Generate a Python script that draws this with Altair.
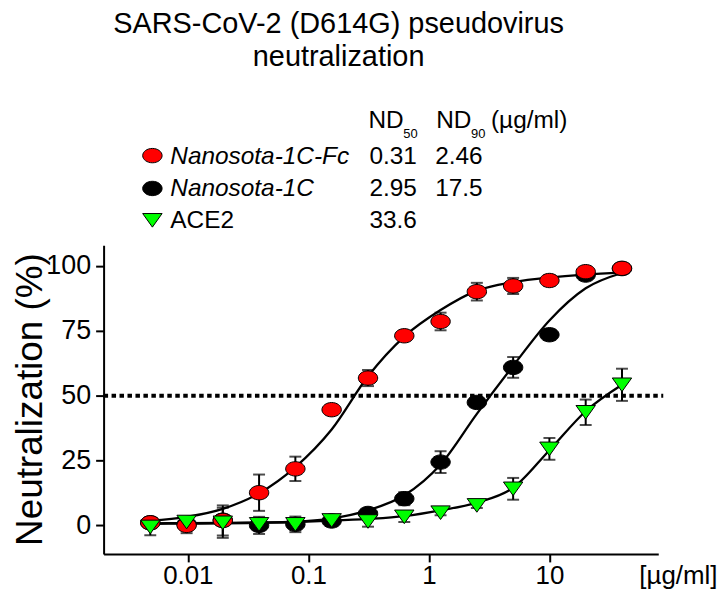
import altair as alt
import pandas as pd

# ---------------- data ----------------
doses = [0.00488, 0.00977, 0.0195, 0.039, 0.078, 0.156, 0.3125, 0.625, 1.25, 2.5, 5, 10, 20, 40]
series_names = ["Nanosota-1C-Fc", "Nanosota-1C", "ACE2"]
series_colors = ["#ff0000", "#000000", "#00ff00"]

fc_mean = [1.0, 0.0, 1.9, 12.6, 21.8, 44.6, 56.8, 73.1, 78.6, 90.1, 92.3, 94.4, 97.8, 99.1]
fc_err = [1.0, 3.0, 5.8, 7.0, 4.7, 1.0, 3.1, 1.0, 3.4, 3.4, 3.1, 2.0, 1.0, 1.0]
nb_mean = [1.0, 0.5, 2.0, 0.0, 0.4, 1.7, 4.6, 10.3, 24.4, 47.4, 60.9, 73.5, 96.5, 99.0]
nb_err = [1.0, 1.0, 1.0, 3.3, 3.0, 1.5, 1.5, 2.5, 4.2, 1.5, 4.0, 2.0, 1.5, 1.0]
ace2_mean = [-0.6, 1.3, 1.0, 0.4, 0.4, 1.9, 1.5, 3.3, 4.9, 7.7, 14.1, 29.5, 43.6, 54.2]
ace2_err = [3.2, 1.0, 5.8, 2.0, 2.0, 2.0, 2.0, 2.0, 1.0, 1.0, 4.2, 4.2, 4.9, 6.2]

# fitted curves at each dose
fc_fit = [1.8, 3.3, 6.4, 12.4, 22.5, 37.0, 57.5, 72.8, 83.0, 90.5, 93.8, 95.6, 96.7, 97.4]
nb_fit = [0.8, 0.9, 1.0, 1.1, 1.4, 2.7, 5.8, 11.6, 23.5, 43.0, 61.5, 79.0, 91.4, 97.3]
ace2_fit = [0.6, 0.7, 0.8, 1.0, 1.3, 1.8, 2.5, 3.6, 5.8, 8.8, 14.5, 29.0, 44.0, 54.2]

nd50_labels = ["0.31", "2.95", "33.6"]
nd90_labels = ["2.46", "17.5", ""]
ref_line = [50]
x_ticks = [0.01, 0.1, 1, 10]
y_ticks = [0, 25, 50, 75, 100]

title_lines = ["SARS-CoV-2 (D614G) pseudovirus", "neutralization"]
y_title = "Neutralization (%)"
x_unit = "[µg/ml]"

# ---------------- tables ----------------
means = {"Nanosota-1C-Fc": fc_mean, "Nanosota-1C": nb_mean, "ACE2": ace2_mean}
errs = {"Nanosota-1C-Fc": fc_err, "Nanosota-1C": nb_err, "ACE2": ace2_err}
fits = {"Nanosota-1C-Fc": fc_fit, "Nanosota-1C": nb_fit, "ACE2": ace2_fit}
draw_order = ["Nanosota-1C", "Nanosota-1C-Fc", "ACE2"]

rows = []
for k, s in enumerate(draw_order):
    for d, m, e in zip(doses, means[s], errs[s]):
        rows.append({"dose": d, "value": m, "lo": m - e, "hi": m + e, "series": s, "ord": k})
pts = pd.DataFrame(rows)

frows = []
for s in series_names:
    for d, f in zip(doses, fits[s]):
        frows.append({"dose": d, "fit": f, "series": s})
fit_df = pd.DataFrame(frows)

FONT = "Liberation Sans"
ELLIPSE = "M-1,0 A1,0.74 0 1,1 1,0 A1,0.74 0 1,1 -1,0 Z"
TRIANGLE = "M-1,-0.7 L1,-0.7 L0,0.7 Z"
shape_range = [ELLIPSE, ELLIPSE, TRIANGLE]

xscale = alt.Scale(type="log", domain=[0.002, 80], nice=False)
yscale = alt.Scale(domain=[-11, 108], nice=False, zero=False)

x_enc = alt.X("dose:Q", scale=xscale,
              axis=alt.Axis(values=x_ticks, format="~g", title=None, labelPadding=22,
                            labelBaseline="alphabetic", labelFontSize=26))
y_enc = alt.Y("value:Q", scale=yscale,
              axis=alt.Axis(values=y_ticks, title=None, labelPadding=5, labelFontSize=27))

# reference 50% line
ref = alt.Chart(pd.DataFrame({"v": ref_line})).mark_rule(
    color="black", strokeWidth=4, strokeDash=[4.5, 3.5]
).encode(y=alt.Y("v:Q", scale=yscale), x=alt.value(0), x2=alt.value(562))

curves = alt.Chart(fit_df).mark_line(color="black", strokeWidth=2.3, interpolate="monotone").encode(
    x=alt.X("dose:Q", scale=xscale),
    y=alt.Y("fit:Q", scale=yscale),
    detail="series:N",
)

base = alt.Chart(pts)
bars = base.mark_rule(color="black", strokeWidth=2).encode(
    x=alt.X("dose:Q", scale=xscale), y=alt.Y("lo:Q", scale=yscale), y2="hi:Q"
)
cap_lo = base.mark_tick(color="black", orient="horizontal", size=12, thickness=2).encode(
    x=alt.X("dose:Q", scale=xscale), y=alt.Y("lo:Q", scale=yscale)
)
cap_hi = base.mark_tick(color="black", orient="horizontal", size=12, thickness=2).encode(
    x=alt.X("dose:Q", scale=xscale), y=alt.Y("hi:Q", scale=yscale)
)
points = base.mark_point(filled=True, size=380, stroke="black", strokeWidth=1, opacity=1).encode(
    x=x_enc,
    y=y_enc,
    fill=alt.Fill("series:N", scale=alt.Scale(domain=series_names, range=series_colors), legend=None),
    shape=alt.Shape("series:N", scale=alt.Scale(domain=series_names, range=shape_range), legend=None),
    order="ord:Q",
)

one = pd.DataFrame({"a": [0]})


def txt(text, x, y, size=24.5, align="left", baseline="middle", style="normal", angle=0, lh=33):
    return alt.Chart(one).mark_text(
        font=FONT, fontSize=size, align=align, baseline=baseline, fontStyle=style,
        color="black", angle=angle, lineHeight=lh,
    ).encode(x=alt.value(x), y=alt.value(y), text=alt.value(text))


# legend block (pixel positions relative to the plot origin)
row_y = [-90, -57, -25]
leg_layers = []
for i, s in enumerate(series_names):
    leg_layers.append(
        alt.Chart(one).mark_point(filled=True, size=380, stroke="black", strokeWidth=1, opacity=1).encode(
            x=alt.value(49), y=alt.value(row_y[i]),
            shape=alt.value(shape_range[i]), fill=alt.value(series_colors[i]))
    )
    leg_layers.append(txt(s, 67, row_y[i] + 1, style="normal" if s == "ACE2" else "italic"))
    leg_layers.append(txt(nd50_labels[i], 267, row_y[i] + 1))
    if nd90_labels[i]:
        leg_layers.append(txt(nd90_labels[i], 333, row_y[i] + 1))

header = [
    txt("ND", 266, -125),
    txt("50", 301, -112, size=13),
    txt("ND", 334, -125),
    txt("90", 369, -112, size=13),
    txt("(µg/ml)", 389, -125),
]

titles = [
    txt(title_lines, 236, -213, size=29, align="center", baseline="alphabetic"),
    txt(y_title, -62, 155, size=37, align="center", baseline="alphabetic", angle=270),
    txt(x_unit, 538, 340, size=26, baseline="alphabetic"),
]

chart = alt.layer(
    ref, curves, bars, cap_lo, cap_hi, points, *leg_layers, *header, *titles
).properties(
    width=557,
    height=310,
    autosize=alt.AutoSizeParams(type="none"),
    padding={"left": 96, "top": 237, "right": 62, "bottom": 36},
).configure_view(stroke=None).configure_axis(
    domainColor="black", domainWidth=2, tickColor="black", tickWidth=2, tickSize=8,
    labelFont=FONT, labelColor="black", grid=False,
)

chart.save("out.html", embed_options={"renderer": "svg", "actions": False})
